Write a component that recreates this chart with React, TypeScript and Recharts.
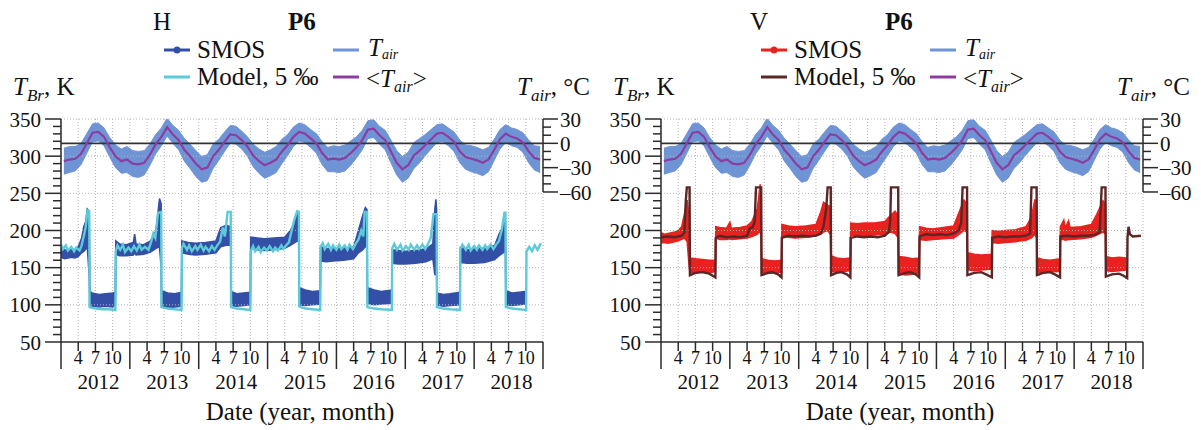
import React from 'react'
import { ComposedChart, Area, Line, XAxis, YAxis, CartesianGrid, ReferenceLine } from 'recharts'

const FONT = "'Liberation Serif', 'Times New Roman', serif"

const years = [2012, 2013, 2014, 2015, 2016, 2017, 2018]
const monthLabels = ['4', '7', '10']

// monthly air temperature, degC (Jan 2012 .. Dec 2018)
const tairMean = [
  -22, -20, -19, -13, 0, 13, 14, 8, -5, -16, -22, -20,
  -25, -26, -24, -14, -1, 8, 20, 11, 4, -8, -16, -25,
  -32, -30, -16, -8, 2, 11, 10, 4, -4, -15, -22, -27,
  -24, -20, -10, -2, 8, 14, 12, 6, 0, -12, -20, -19,
  -20, -18, -12, -5, 4, 17, 18, 10, 4, -10, -24, -32,
  -27, -15, -9, -2, 5, 12, 13, 8, 2, -10, -17, -19,
  -21, -24, -20, -8, 5, 12, 8, 6, 1, -10, -18, -20,
]
const tairHi = [
  -6, -4, -4, 0, 12, 24, 25, 19, 7, -2, -7, -4,
  -9, -10, -9, -1, 11, 19, 31, 22, 16, 6, -1, -9,
  -16, -14, -1, 5, 14, 22, 21, 15, 8, -1, -7, -11,
  -8, -4, 5, 11, 20, 25, 23, 17, 12, 2, -5, -3,
  -4, -2, 3, 8, 16, 28, 29, 21, 16, 4, -9, -16,
  -11, 1, 6, 11, 17, 23, 24, 19, 14, 4, -2, -3,
  -5, -8, -5, 5, 17, 23, 19, 17, 13, 4, -3, -4,
]
const tairLo = [
  -38, -36, -34, -26, -12, 2, 3, -3, -17, -30, -37, -36,
  -41, -42, -39, -27, -13, -3, 9, 0, -8, -22, -31, -41,
  -48, -46, -31, -21, -10, 0, -1, -7, -16, -29, -37, -43,
  -40, -36, -25, -15, -4, 3, 1, -5, -12, -26, -35, -35,
  -36, -34, -27, -18, -8, 6, 7, -1, -8, -24, -39, -48,
  -43, -31, -24, -15, -7, 1, 2, -3, -10, -24, -32, -35,
  -37, -40, -35, -21, -7, 1, -3, -5, -11, -24, -33, -36,
]

// SMOS H-pol: [time, low, high] K
const smosH: [number, number, number][] = [
  [2012.0, 164, 176], [2012.05, 162, 174], [2012.1, 163, 173], [2012.15, 164, 175], [2012.2, 163, 174],
  [2012.25, 165, 178], [2012.3, 170, 190], [2012.33, 172, 205], [2012.36, 175, 212], [2012.38, 180, 229],
  [2012.41, 138, 226], [2012.42, 100, 118], [2012.45, 98, 116], [2012.55, 97, 114], [2012.65, 98, 115],
  [2012.75, 97, 116], [2012.79, 99, 117],
  [2012.795, 168, 186], [2012.85, 166, 182], [2012.95, 166, 181], [2013.05, 167, 184], [2013.07, 170, 195],
  [2013.09, 167, 182], [2013.2, 168, 181], [2013.3, 171, 186], [2013.38, 176, 200], [2013.43, 178, 243],
  [2013.455, 150, 236], [2013.46, 97, 119], [2013.55, 96, 116], [2013.65, 97, 115], [2013.75, 98, 117],
  [2013.755, 170, 186], [2013.85, 168, 184], [2013.95, 167, 183], [2014.1, 168, 184], [2014.25, 170, 186],
  [2014.32, 178, 204], [2014.4, 180, 207], [2014.465, 180, 205], [2014.47, 99, 118], [2014.55, 98, 115],
  [2014.65, 99, 116], [2014.75, 100, 117],
  [2014.755, 176, 191], [2014.85, 174, 190], [2014.95, 173, 189], [2015.1, 174, 190], [2015.25, 176, 191],
  [2015.33, 180, 200], [2015.4, 184, 212], [2015.44, 186, 224], [2015.455, 186, 224], [2015.46, 100, 123],
  [2015.55, 99, 120], [2015.65, 100, 118], [2015.765, 101, 119],
  [2015.77, 159, 178], [2015.85, 158, 176], [2015.95, 159, 175], [2016.1, 160, 176], [2016.25, 162, 178],
  [2016.32, 170, 200], [2016.38, 174, 220], [2016.42, 178, 231], [2016.445, 178, 228], [2016.45, 102, 123],
  [2016.55, 100, 120], [2016.65, 101, 118], [2016.805, 102, 120],
  [2016.81, 156, 174], [2016.9, 155, 173], [2017.0, 155, 172], [2017.15, 156, 173], [2017.3, 158, 175],
  [2017.4, 162, 182], [2017.43, 140, 230], [2017.445, 150, 242], [2017.455, 140, 228], [2017.46, 100, 116],
  [2017.55, 98, 114], [2017.65, 99, 115], [2017.795, 100, 117],
  [2017.8, 157, 177], [2017.9, 156, 174], [2018.0, 156, 175], [2018.15, 157, 176], [2018.3, 161, 180],
  [2018.36, 166, 195], [2018.42, 170, 205], [2018.445, 172, 214], [2018.455, 172, 212], [2018.46, 100, 119],
  [2018.55, 99, 116], [2018.65, 100, 117], [2018.74, 101, 118],
]

// Model H-pol, 5 permille: [time, K]
const modelH: [number, number][] = [
  [2012.0, 181], [2012.03, 175], [2012.07, 180], [2012.1, 173], [2012.15, 178], [2012.19, 172], [2012.22, 177],
  [2012.27, 173], [2012.3, 180], [2012.33, 192], [2012.36, 205], [2012.385, 227], [2012.41, 226],
  [2012.415, 97], [2012.5, 95], [2012.6, 94], [2012.7, 94], [2012.79, 93],
  [2012.795, 172], [2012.82, 180], [2012.86, 174], [2012.9, 181], [2012.93, 171], [2012.98, 177], [2013.02, 172],
  [2013.06, 179], [2013.1, 173], [2013.14, 181], [2013.17, 174], [2013.22, 178], [2013.27, 174], [2013.31, 185],
  [2013.34, 196], [2013.37, 190], [2013.41, 224], [2013.455, 225],
  [2013.46, 97], [2013.55, 95], [2013.65, 94], [2013.75, 93],
  [2013.755, 176], [2013.78, 182], [2013.83, 174], [2013.86, 180], [2013.9, 172], [2013.95, 179], [2013.98, 174],
  [2014.03, 181], [2014.07, 173], [2014.1, 178], [2014.15, 172], [2014.19, 179], [2014.23, 174], [2014.27, 180],
  [2014.31, 185], [2014.35, 204], [2014.38, 192], [2014.42, 225], [2014.465, 225],
  [2014.47, 97], [2014.55, 95], [2014.65, 94], [2014.75, 93],
  [2014.755, 172], [2014.79, 179], [2014.82, 172], [2014.87, 178], [2014.9, 171], [2014.95, 177], [2014.99, 173],
  [2015.03, 179], [2015.08, 172], [2015.11, 177], [2015.15, 173], [2015.2, 180], [2015.23, 175], [2015.27, 180],
  [2015.31, 184], [2015.35, 200], [2015.39, 215], [2015.43, 226], [2015.455, 225],
  [2015.46, 98], [2015.55, 95], [2015.65, 94], [2015.765, 93],
  [2015.77, 178], [2015.8, 183], [2015.83, 175], [2015.88, 182], [2015.92, 174], [2015.95, 180], [2016.0, 174],
  [2016.04, 181], [2016.07, 175], [2016.12, 180], [2016.16, 174], [2016.19, 181], [2016.24, 175], [2016.28, 182],
  [2016.32, 188], [2016.36, 200], [2016.39, 192], [2016.41, 225], [2016.445, 225],
  [2016.45, 97], [2016.55, 95], [2016.65, 94], [2016.805, 93],
  [2016.81, 176], [2016.84, 182], [2016.88, 174], [2016.93, 181], [2016.96, 173], [2017.01, 179], [2017.05, 174],
  [2017.08, 181], [2017.13, 174], [2017.17, 180], [2017.2, 175], [2017.25, 181], [2017.29, 175], [2017.33, 182],
  [2017.37, 190], [2017.41, 222], [2017.455, 222],
  [2017.46, 97], [2017.55, 95], [2017.65, 94], [2017.795, 93],
  [2017.8, 175], [2017.83, 181], [2017.88, 174], [2017.92, 181], [2017.95, 173], [2018.0, 179], [2018.04, 174],
  [2018.07, 180], [2018.12, 174], [2018.16, 180], [2018.19, 175], [2018.24, 181], [2018.28, 175], [2018.32, 181],
  [2018.36, 186], [2018.4, 200], [2018.44, 224], [2018.455, 224],
  [2018.46, 97], [2018.55, 95], [2018.65, 94], [2018.755, 93],
  [2018.76, 172], [2018.8, 178], [2018.84, 172], [2018.88, 180], [2018.92, 174], [2018.97, 183],
]

// SMOS V-pol: [time, low, high] K
const smosV: [number, number, number][] = [
  [2012.0, 183, 197], [2012.05, 184, 195], [2012.1, 183, 196], [2012.15, 184, 197], [2012.2, 185, 198],
  [2012.25, 186, 200], [2012.3, 188, 205], [2012.34, 190, 222], [2012.38, 185, 241], [2012.41, 150, 215],
  [2012.42, 144, 163], [2012.5, 143, 162], [2012.6, 144, 161], [2012.7, 143, 160], [2012.79, 145, 160],
  [2012.795, 190, 205], [2012.85, 188, 204], [2012.95, 188, 203], [2013.0, 189, 211], [2013.02, 188, 203],
  [2013.15, 189, 204], [2013.25, 190, 206], [2013.32, 192, 212], [2013.4, 195, 230], [2013.44, 200, 262],
  [2013.455, 190, 250], [2013.46, 143, 162], [2013.55, 142, 160], [2013.65, 143, 159], [2013.75, 144, 160],
  [2013.755, 192, 208], [2013.85, 191, 206], [2013.95, 190, 205], [2014.1, 191, 206], [2014.25, 193, 208],
  [2014.32, 195, 225], [2014.36, 198, 238], [2014.42, 200, 234], [2014.46, 195, 232], [2014.47, 145, 166],
  [2014.55, 144, 163], [2014.65, 145, 162], [2014.75, 146, 163],
  [2014.755, 194, 210], [2014.85, 193, 209], [2014.95, 193, 210], [2015.1, 194, 210], [2015.25, 195, 212],
  [2015.33, 198, 220], [2015.4, 196, 226], [2015.445, 190, 220], [2015.45, 142, 165], [2015.55, 140, 164],
  [2015.65, 141, 162], [2015.75, 142, 163],
  [2015.755, 188, 205], [2015.85, 187, 203], [2015.95, 188, 202], [2016.1, 189, 204], [2016.25, 190, 206],
  [2016.33, 195, 225], [2016.4, 200, 241], [2016.445, 198, 235], [2016.45, 147, 170], [2016.55, 146, 168],
  [2016.65, 147, 167], [2016.8, 148, 168],
  [2016.81, 184, 200], [2016.9, 183, 199], [2017.0, 184, 200], [2017.15, 185, 201], [2017.3, 187, 205],
  [2017.38, 190, 218], [2017.43, 195, 242], [2017.455, 190, 230], [2017.46, 144, 163], [2017.55, 143, 161],
  [2017.65, 144, 160], [2017.795, 145, 162],
  [2017.8, 188, 205], [2017.85, 188, 214], [2017.87, 187, 204], [2017.92, 188, 213], [2017.94, 188, 204],
  [2018.1, 189, 205], [2018.25, 191, 208], [2018.33, 194, 222], [2018.42, 198, 240], [2018.455, 195, 235],
  [2018.46, 146, 165], [2018.55, 145, 163], [2018.65, 146, 164], [2018.76, 147, 163],
]

// Model V-pol, 5 permille: [time, K]
const modelV: [number, number][] = [
  [2012.0, 191], [2012.1, 192], [2012.2, 191], [2012.3, 193], [2012.34, 197], [2012.36, 240], [2012.375, 258],
  [2012.415, 258], [2012.42, 140], [2012.5, 143], [2012.6, 144], [2012.7, 142], [2012.79, 137],
  [2012.795, 190], [2012.85, 193], [2012.95, 191], [2013.05, 192], [2013.15, 191], [2013.25, 193], [2013.29, 203],
  [2013.33, 204], [2013.36, 212], [2013.38, 258], [2013.455, 258], [2013.46, 140], [2013.55, 143], [2013.62, 144],
  [2013.7, 141], [2013.75, 137],
  [2013.755, 190], [2013.85, 193], [2013.95, 192], [2014.05, 193], [2014.15, 192], [2014.25, 193], [2014.32, 196],
  [2014.36, 205], [2014.4, 230], [2014.42, 258], [2014.465, 258], [2014.47, 140], [2014.55, 143], [2014.62, 144],
  [2014.7, 141], [2014.75, 137],
  [2014.755, 190], [2014.85, 192], [2014.95, 191], [2015.05, 192], [2015.15, 191], [2015.25, 193], [2015.31, 198],
  [2015.33, 215], [2015.34, 258], [2015.445, 258], [2015.45, 140], [2015.55, 143], [2015.62, 144], [2015.7, 141],
  [2015.75, 137],
  [2015.755, 192], [2015.85, 195], [2015.95, 194], [2016.05, 195], [2016.15, 194], [2016.25, 196], [2016.32, 200],
  [2016.36, 210], [2016.38, 258], [2016.445, 258], [2016.45, 140], [2016.55, 143], [2016.65, 144], [2016.72, 141],
  [2016.805, 137],
  [2016.81, 190], [2016.9, 192], [2017.0, 191], [2017.1, 192], [2017.2, 192], [2017.3, 193], [2017.36, 196],
  [2017.38, 258], [2017.455, 258], [2017.46, 140], [2017.55, 143], [2017.65, 144], [2017.72, 141], [2017.795, 137],
  [2017.8, 192], [2017.9, 193], [2018.0, 192], [2018.1, 193], [2018.2, 193], [2018.3, 194], [2018.37, 198],
  [2018.4, 258], [2018.455, 258], [2018.46, 138], [2018.55, 141], [2018.65, 142], [2018.7, 140], [2018.77, 136],
  [2018.775, 190], [2018.79, 205], [2018.81, 195], [2018.85, 192], [2018.97, 193],
]

const leftTicks = [50, 60, 70, 80, 90, 100, 110, 120, 130, 140, 150, 160, 170, 180, 190, 200, 210, 220, 230, 240,
  250, 260, 270, 280, 290, 300, 310, 320, 330, 340, 350]
const leftMajor = [50, 100, 150, 200, 250, 300, 350]
const rightTicks = [30, 20, 10, 0, -10, -20, -30, -40, -50, -60]
const rightMajor = [30, 0, -30, -60]
const xTicks = years.flatMap((y) => [y, y + 0.25, y + 0.5, y + 0.75]).concat([2019])

const tairData = tairMean.map((m, i) => ({
  t: 2012 + (i + 0.5) / 12,
  mean: m,
  band: [tairLo[i], tairHi[i]],
}))
const toBand = (arr: [number, number, number][]) => arr.map(([t, lo, hi]) => ({ t, band: [lo, hi] }))
const toLine = (arr: [number, number][]) => arr.map(([t, v]) => ({ t, v }))

const AXIS = '#2b2b2b'

function LeftTick(props: any) {
  const { x, y, payload } = props
  const major = leftMajor.includes(payload.value)
  return (
    <g>
      <line x1={x - (major ? 16 : 8)} x2={x} y1={y} y2={y} stroke={AXIS} strokeWidth={1.5} />
      {major && (
        <text x={x - 20} y={y} dy="0.36em" textAnchor="end" fontSize={21} fontFamily={FONT} fill="#111">
          {payload.value}
        </text>
      )}
    </g>
  )
}

function RightTick(props: any) {
  const { x, y, payload } = props
  const major = rightMajor.includes(payload.value)
  const v = payload.value
  return (
    <g>
      <line x1={x} x2={x + (major ? 15 : 8)} y1={y} y2={y} stroke={AXIS} strokeWidth={1.5} />
      {major && (
        <text x={x + 17} y={y} dy="0.36em" textAnchor="start" fontSize={21} fontFamily={FONT} fill="#111">
          {v < 0 ? '\u2013' + Math.abs(v) : v}
        </text>
      )}
    </g>
  )
}

function BottomTick(props: any) {
  const { x, y, payload } = props
  const v: number = payload.value
  const yr = Math.floor(v + 1e-6)
  const q = Math.round((v - yr) * 4)
  if (q === 0) {
    return <line x1={x} x2={x} y1={y} y2={y + 27} stroke={AXIS} strokeWidth={1.5} />
  }
  return (
    <g>
      <line x1={x} x2={x} y1={y} y2={y + 9} stroke={AXIS} strokeWidth={1.5} />
      <text x={x} y={y + 22} textAnchor="middle" fontSize={18} fontFamily={FONT} fill="#111">
        {monthLabels[q - 1]}
      </text>
      {q === 2 && (
        <text x={x + 3} y={y + 47} textAnchor="middle" fontSize={21} fontFamily={FONT} fill="#111">
          {yr}
        </text>
      )}
    </g>
  )
}

interface PanelProps {
  smos: [number, number, number][]
  model: [number, number][]
  smosColor: string
  modelColor: string
}

const TAIR_COLOR = '#6f94d6'
const TAIR_MEAN_COLOR = '#8c3d9f'

function Panel({ smos, model, smosColor, modelColor }: PanelProps) {
  return (
    <ComposedChart width={600} height={430} margin={{ top: 119, right: 0, bottom: 0, left: 0 }}>
      <CartesianGrid yAxisId="left" horizontal={false} stroke="#b5b5b5" strokeDasharray="1 2" />
      <XAxis
        dataKey="t"
        type="number"
        domain={[2012, 2019]}
        ticks={xTicks}
        interval={0}
        allowDataOverflow
        height={88}
        tickSize={0}
        tickMargin={0}
        tick={<BottomTick />}
        axisLine={{ stroke: AXIS, strokeWidth: 1.5 }}
        tickLine={false}
      />
      <YAxis
        yAxisId="left"
        type="number"
        domain={[50, 350]}
        ticks={leftTicks}
        interval={0}
        width={61}
        tickSize={0}
        tickMargin={0}
        tick={<LeftTick />}
        tickLine={false}
        axisLine={{ stroke: AXIS, strokeWidth: 1.5 }}
        allowDataOverflow
      />
      <YAxis
        yAxisId="right"
        orientation="right"
        type="number"
        domain={[-245, 30]}
        ticks={rightTicks}
        interval={0}
        width={57}
        tickSize={0}
        tickMargin={0}
        tick={<RightTick />}
        tickLine={false}
        axisLine={false}
        allowDataOverflow
      />
      {leftMajor.slice(1).map((v) => (
        <ReferenceLine key={v} yAxisId="left" y={v} stroke="#b5b5b5" strokeDasharray="1 2" />
      ))}
      <ReferenceLine
        yAxisId="right"
        segment={[{ x: 2019, y: 30 }, { x: 2019, y: -60 }]}
        stroke={AXIS}
        strokeWidth={1.5}
        ifOverflow="visible"
      />
      <Area
        yAxisId="right"
        data={tairData}
        dataKey="band"
        type="linear"
        stroke={TAIR_COLOR}
        strokeWidth={1}
        fill={TAIR_COLOR}
        fillOpacity={1}
        isAnimationActive={false}
        dot={false}
        activeDot={false}
      />
      <ReferenceLine yAxisId="right" y={0} stroke="#333" strokeWidth={1.6} />
      <Line
        yAxisId="right"
        data={tairData}
        dataKey="mean"
        type="linear"
        stroke={TAIR_MEAN_COLOR}
        strokeWidth={2.2}
        dot={false}
        activeDot={false}
        isAnimationActive={false}
      />
      <Area
        yAxisId="left"
        data={toBand(smos)}
        dataKey="band"
        type="linear"
        stroke={smosColor}
        strokeWidth={1.5}
        fill={smosColor}
        fillOpacity={1}
        dot={false}
        activeDot={false}
        isAnimationActive={false}
      />
      <Line
        yAxisId="left"
        data={toLine(model)}
        dataKey="v"
        type="linear"
        stroke={modelColor}
        strokeWidth={2.4}
        dot={false}
        activeDot={false}
        isAnimationActive={false}
      />
    </ComposedChart>
  )
}

function Sub({ children, size = 17, shift = 6 }: { children: React.ReactNode; size?: number; shift?: number }) {
  return (
    <tspan fontSize={size} dy={shift}>
      {children}
    </tspan>
  )
}

function Labels({ dx, pol, smosColor, modelColor }: { dx: number; pol: string; smosColor: string; modelColor: string }) {
  const l = dx
  return (
    <g fontFamily={FONT} fill="#111" fontSize={25}>
      <text x={l + 153} y={30}>{pol}</text>
      <text x={l + 288} y={30} fontWeight="bold">P6</text>
      <line x1={l + 164} x2={l + 190} y1={50} y2={50} stroke={smosColor} strokeWidth={3} />
      <circle cx={l + 177} cy={50} r={3.5} fill={smosColor} />
      <text x={l + 197} y={58}>SMOS</text>
      <line x1={l + 164} x2={l + 190} y1={77} y2={77} stroke={modelColor} strokeWidth={3} />
      <text x={l + 197} y={85}>Model, 5 ‰</text>
      <line x1={l + 333} x2={l + 359} y1={50} y2={50} stroke={TAIR_COLOR} strokeWidth={3} />
      <text x={l + 368} y={56}>
        <tspan fontStyle="italic">T</tspan>
        <Sub size={14} shift={3}>
          <tspan fontStyle="italic">air</tspan>
        </Sub>
      </text>
      <line x1={l + 333} x2={l + 359} y1={77} y2={77} stroke={TAIR_MEAN_COLOR} strokeWidth={3} />
      <text x={l + 366} y={87}>
        {'<'}
        <tspan fontStyle="italic">T</tspan>
        <Sub size={16} shift={5}>
          <tspan fontStyle="italic">air</tspan>
        </Sub>
        <tspan dy={-5}>{'>'}</tspan>
      </text>
    </g>
  )
}

function AxisTitles({ dx }: { dx: number }) {
  return (
    <g fontFamily={FONT} fill="#111" fontSize={25}>
      <text x={dx + 13} y={95}>
        <tspan fontStyle="italic">T</tspan>
        <Sub>
          <tspan fontStyle="italic">Br</tspan>
        </Sub>
        <tspan dy={-6}>, K</tspan>
      </text>
      <text x={dx + 517} y={95}>
        <tspan fontStyle="italic">T</tspan>
        <Sub>
          <tspan fontStyle="italic">air</tspan>
        </Sub>
        <tspan dy={-6}>, °C</tspan>
      </text>
      <text x={dx + 300} y={420} textAnchor="middle">Date (year, month)</text>
    </g>
  )
}

export default function App() {
  return (
    <div style={{ position: 'absolute', left: 0, top: 0, width: 1201, height: 430, background: '#fff' }}>
      <div style={{ position: 'absolute', left: 0, top: 0 }}>
        <Panel smos={smosH} model={modelH} smosColor="#3450a6" modelColor="#5ccad9" />
      </div>
      <div style={{ position: 'absolute', left: 600, top: 0 }}>
        <Panel smos={smosV} model={modelV} smosColor="#e8221e" modelColor="#5a2626" />
      </div>
      <svg width={1201} height={430} style={{ position: 'absolute', left: 0, top: 0, pointerEvents: 'none' }}>
        <Labels dx={0} pol="H" smosColor="#3450a6" modelColor="#5ccad9" />
        <Labels dx={597} pol="V" smosColor="#e8221e" modelColor="#5a2626" />
        <AxisTitles dx={0} />
        <AxisTitles dx={600} />
      </svg>
    </div>
  )
}
